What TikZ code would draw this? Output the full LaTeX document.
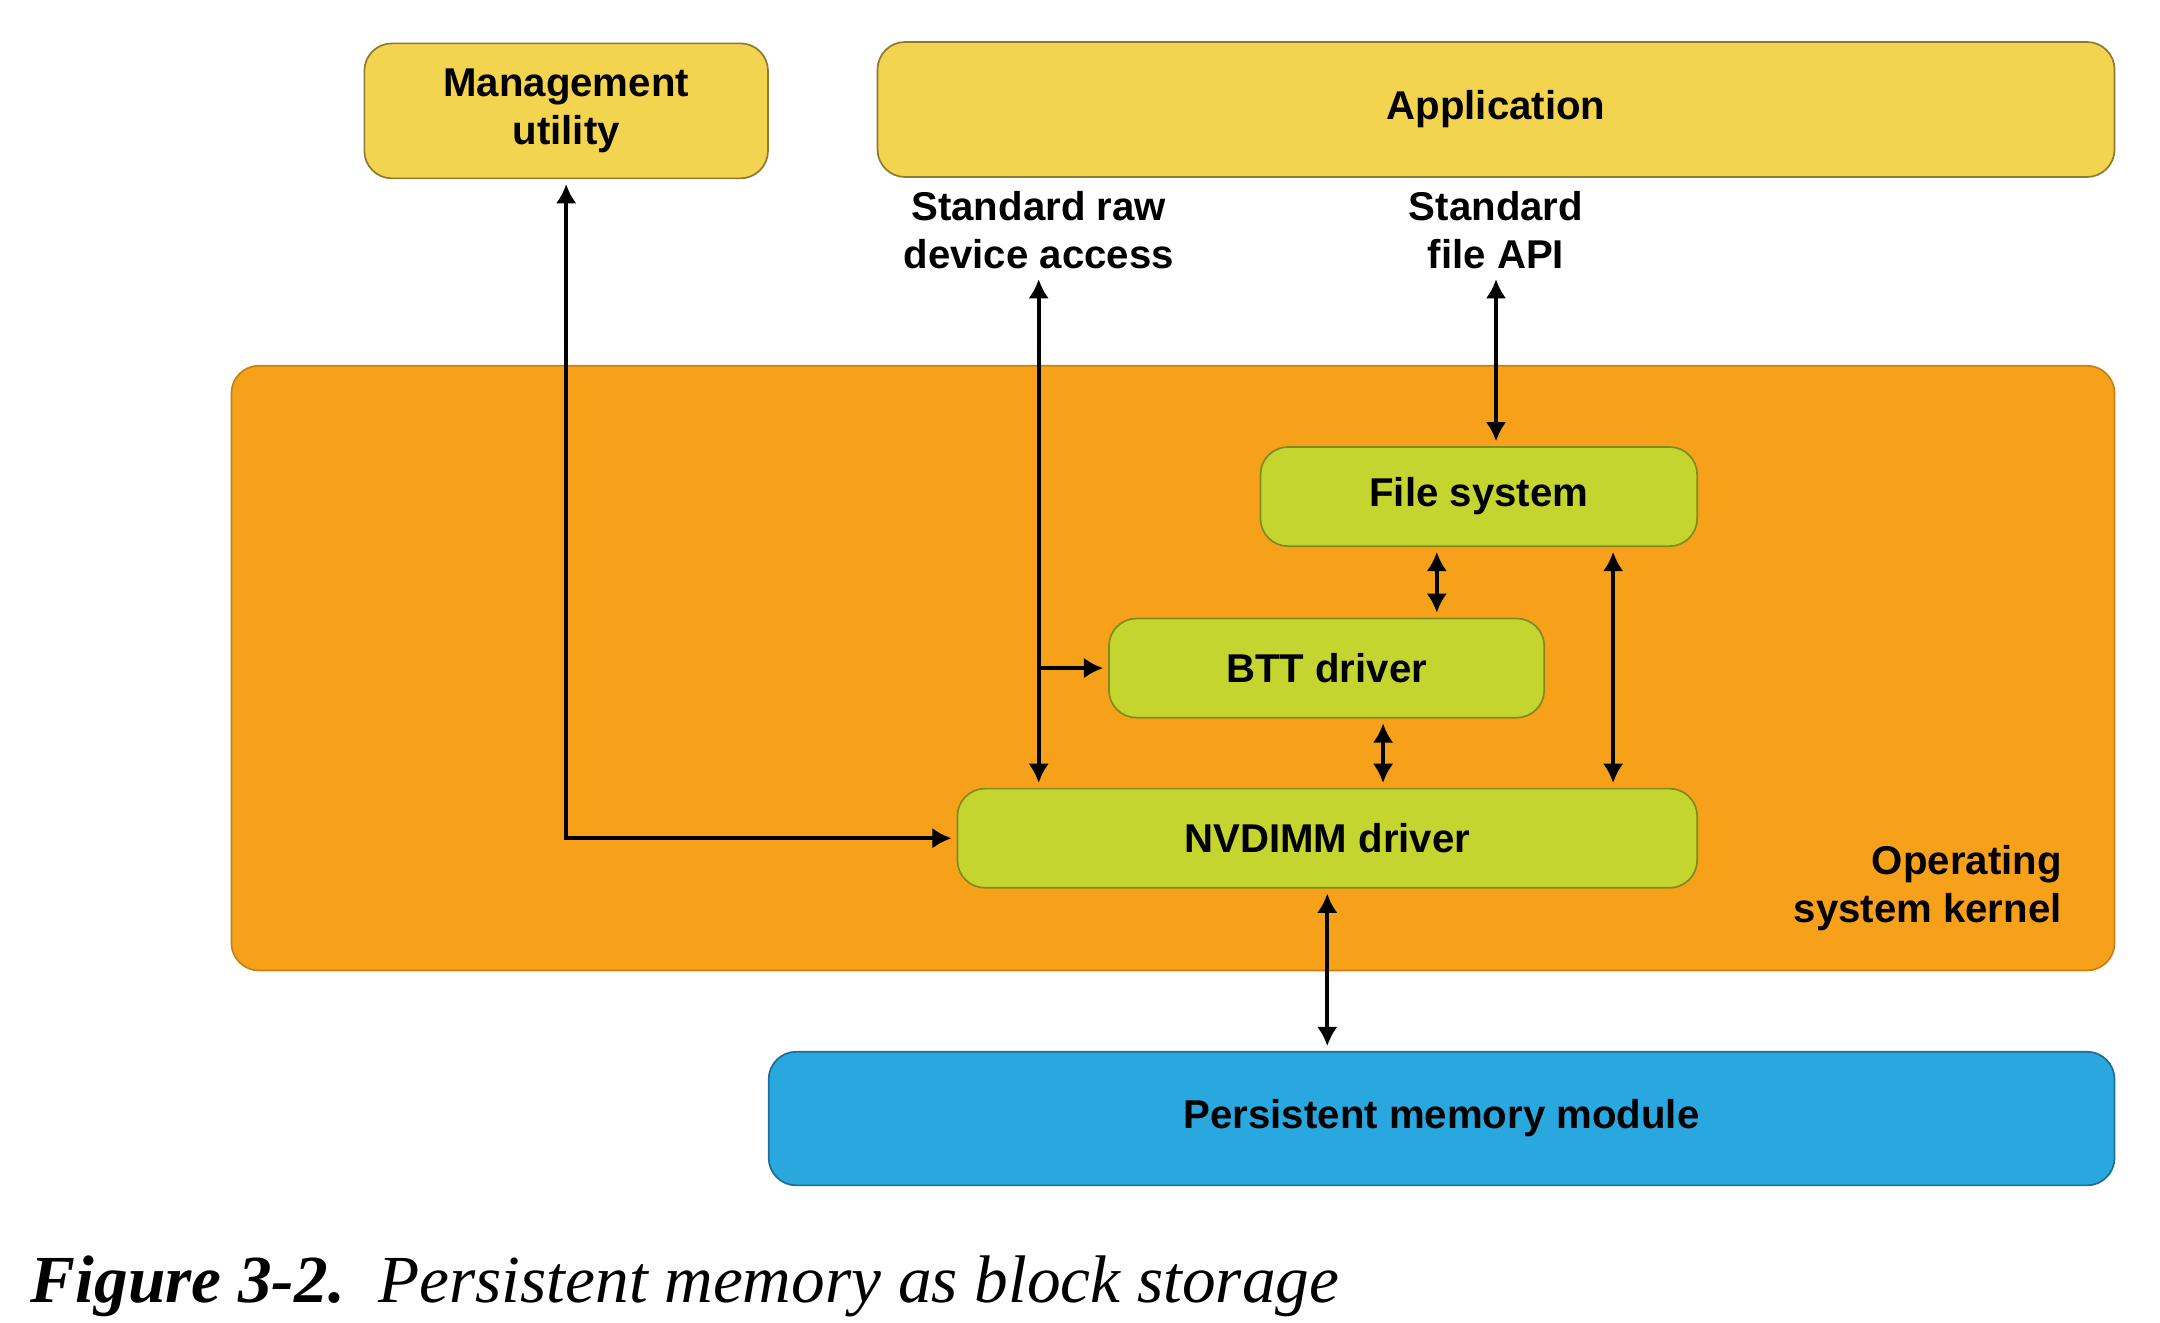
\documentclass[tikz,border=0pt]{standalone}
\usepackage{fontspec}
\newfontfamily\labelfont{Liberation Sans}
\newfontfamily\captionfont{Liberation Serif}
\usetikzlibrary{arrows.meta,positioning}
\definecolor{appyellow}{HTML}{F2D44E}
\definecolor{appedge}{HTML}{8C7A32}
\definecolor{kernorange}{HTML}{F7A11B}
\definecolor{kernedge}{HTML}{C98012}
\definecolor{drvgreen}{HTML}{C5D52F}
\definecolor{drvedge}{HTML}{7D8C1E}
\definecolor{pmmblue}{HTML}{29A8E0}
\definecolor{pmmedge}{HTML}{1C6E96}

\begin{document}
\begin{tikzpicture}[font=\labelfont\bfseries\fontsize{16.6}{20}\selectfont]
\tikzstyle{block} = [rectangle, line width=0.7pt, rounded corners=0.4cm,
  align=center, inner sep=0pt]
\tikzstyle{app} = [block, draw=appedge, fill=appyellow]
\tikzstyle{drv} = [block, draw=drvedge, fill=drvgreen, minimum height=1.44cm]
\tikzstyle{line} = [-{Latex[length=0.28cm,width=0.3cm]}, line width=1.8pt, draw]
\tikzstyle{both} = [line, {Latex[length=0.28cm,width=0.3cm]}-{Latex[length=0.28cm,width=0.3cm]}]
\tikzstyle{tekst} = [align=center, inner sep=0pt]

    \useasboundingbox (0,-0.024) rectangle (31.36,19.17);
    % kernel in the background
    \node[block, draw=kernedge, fill=kernorange, minimum width=27.34cm,
      minimum height=8.78cm] (kernel) at (17.03,9.47) {};
    \node[tekst, align=right, anchor=east] (kernlbl) at (29.94,6.28)
      {Operating\\system kernel};

    \node[app, minimum width=5.86cm, minimum height=1.96cm] (mgmt) at (8.22,17.56)
      {Management\\utility};
    \node[app, minimum width=17.96cm, minimum height=1.96cm] (appl) at (21.72,17.58)
      {Application};
    \node[tekst] (rawlbl) at (15.08,15.83) {Standard raw\\device access};
    \node[tekst] (apilbl) at (21.72,15.83) {Standard\\file API};

    \node[drv, minimum width=6.34cm] (fs) at (21.47,11.96) {File system};
    \node[drv, minimum width=6.32cm] (btt) at (19.26,9.47) {BTT driver};
    \node[drv, minimum width=10.74cm] (nvdimm) at (19.27,7.0) {NVDIMM driver};
    \node[block, draw=pmmedge, fill=pmmblue, minimum width=19.54cm,
      minimum height=1.94cm] (pmm) at (20.93,2.93) {Persistent memory module};

    \node[anchor=base west, inner sep=0pt,
      font=\captionfont\itshape\fontsize{27.8}{30}\selectfont] (caption) at (0.44,0.26)
      {\textbf{Figure 3-2.}\ \ Persistent memory as block storage};

    \path [both, shorten <=2pt, shorten >=2pt] (mgmt.south) |- (nvdimm.west);
    \path [both, shorten <=4pt, shorten >=2pt] (rawlbl.south) -- (rawlbl.south |- nvdimm.north);
    \path [line, shorten >=2pt] (rawlbl.south |- btt.west) -- (btt.west);
    \path [both, shorten <=4pt, shorten >=2pt] (apilbl.south) -- (apilbl.south |- fs.north);
    \path [both, shorten <=2pt, shorten >=2pt] ([xshift=-0.61cm]fs.south) -- ([xshift=-0.61cm]fs.south |- btt.north);
    \path [both, shorten <=2pt, shorten >=2pt] ([xshift=0.82cm]btt.south) -- ([xshift=0.82cm]btt.south |- nvdimm.north);
    \path [both, shorten <=2pt, shorten >=2pt] ([xshift=1.95cm]fs.south) -- ([xshift=1.95cm]fs.south |- nvdimm.north);
    \path [both, shorten <=2pt, shorten >=2pt] (nvdimm.south) -- (nvdimm.south |- pmm.north);
\end{tikzpicture}
\end{document}
